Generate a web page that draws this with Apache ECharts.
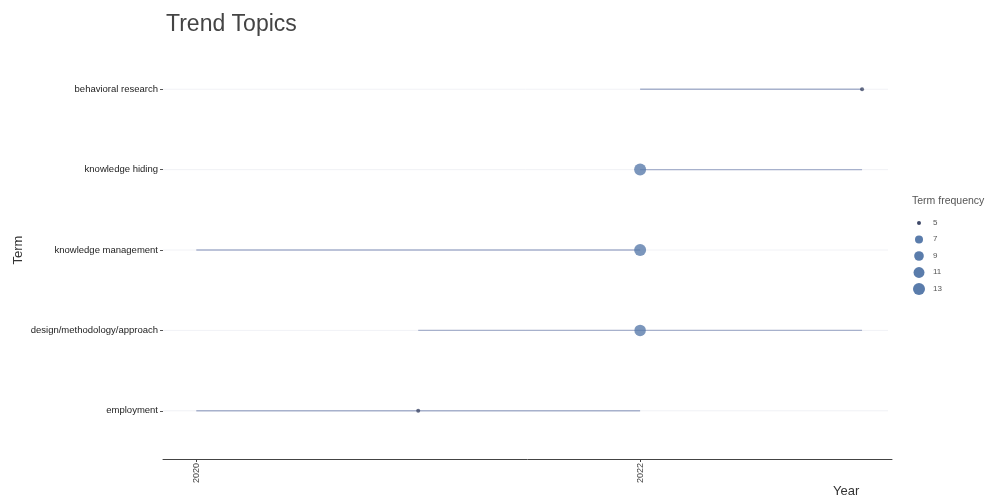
<!DOCTYPE html>
<html>
<head>
<meta charset="utf-8">
<script src="https://cdn.jsdelivr.net/npm/echarts@6/dist/echarts.min.js"></script>
<style>
  html, body { margin: 0; padding: 0; background: #fff; }
  #chart { width: 990px; height: 500px; }
</style>
</head>
<body>
<div id="chart"></div>
<script>
// Terms listed bottom to top
const terms = ['employment', 'design/methodology/approach', 'knowledge management', 'knowledge hiding', 'behavioral research'];
// First quartile, median and third quartile of publication year per term
const yearQ1 = [2020, 2021, 2020, 2022, 2022];
const yearMedian = [2021, 2022, 2022, 2022, 2023];
const yearQ3 = [2022, 2023, 2022, 2023, 2023];
// Term frequency per term
const freq = [5, 12, 13, 13, 5];
// Year tick labels and legend steps
const yearTicks = [2020, 2022];
const legendSteps = [5, 7, 9, 11, 13];

const X_MIN = 2019.85, X_MAX = 2023.135;
const F_MIN = 5, F_MAX = 13;

function sizeOf(f) {
  return 4 + 8 * Math.sqrt(Math.max(0, (f - F_MIN) / (F_MAX - F_MIN)));
}
function mix(a, b, t) {
  const pa = [parseInt(a.slice(1, 3), 16), parseInt(a.slice(3, 5), 16), parseInt(a.slice(5, 7), 16)];
  const pb = [parseInt(b.slice(1, 3), 16), parseInt(b.slice(3, 5), 16), parseInt(b.slice(5, 7), 16)];
  return 'rgb(' + pa.map((v, i) => Math.round(v + (pb[i] - v) * t)).join(',') + ')';
}
function colorOf(f) {
  return mix('#3e4868', '#5a7cab', Math.min(1, (f - F_MIN) / 2));
}

const segData = terms.map((t, i) => [yearQ1[i], yearQ3[i], i + 1]);
const pointData = terms.map((t, i) => ({
  value: [yearMedian[i], i + 1, freq[i]],
  symbolSize: sizeOf(freq[i]),
  itemStyle: { color: colorOf(freq[i]) }
}));

// Legend for term frequency
const legendChildren = [{
  type: 'text', x: 0, y: 0,
  style: { text: 'Term frequency', fontSize: 10.5, fill: '#555', fontFamily: 'Liberation Sans' }
}];
legendSteps.forEach((f, k) => {
  const cy = 27 + k * 16.5;
  legendChildren.push({
    type: 'circle', shape: { cx: 7, cy: cy, r: sizeOf(f) / 2 },
    style: { fill: colorOf(f) }
  });
  legendChildren.push({
    type: 'text', x: 21, y: cy - 4.5,
    style: { text: String(f), fontSize: 8, fill: '#555', fontFamily: 'Liberation Sans' }
  });
});

const chart = echarts.init(document.getElementById('chart'), null, { renderer: 'canvas' });
chart.setOption({
  backgroundColor: '#fff',
  animation: false,
  title: {
    text: 'Trend Topics', left: 161, top: 8,
    textStyle: { fontSize: 23, fontWeight: 'normal', color: '#444', fontFamily: 'Liberation Sans' }
  },
  grid: { left: 163, right: 98, top: 41, bottom: 41 },
  xAxis: {
    type: 'value', min: X_MIN, max: X_MAX,
    axisLine: { show: true, lineStyle: { color: '#444', width: 1 } },
    axisTick: { show: true, customValues: yearTicks, length: 3, lineStyle: { color: '#444' } },
    axisLabel: {
      customValues: yearTicks, rotate: 90, fontSize: 9, color: '#444',
      margin: 4, fontFamily: 'Liberation Sans', formatter: v => String(Math.round(v))
    },
    splitLine: { show: false }
  },
  yAxis: {
    type: 'value', min: 0.4, max: 5.6,
    name: 'Term', nameLocation: 'middle', nameGap: 138, nameRotate: 90,
    nameMoveOverlap: false,
    nameTextStyle: { fontSize: 13, color: '#333', fontFamily: 'Liberation Sans' },
    axisLine: { show: false },
    axisTick: { show: true, customValues: [1, 2, 3, 4, 5], length: 3, lineStyle: { color: '#555' } },
    axisLabel: {
      customValues: [1, 2, 3, 4, 5], fontSize: 9.5, color: '#222', margin: 5,
      fontFamily: 'Liberation Sans', formatter: v => terms[Math.round(v) - 1]
    },
    splitLine: { show: false }
  },
  graphic: [
    { type: 'text', left: 833, top: 485,
      style: { text: 'Year', fontSize: 13, fill: '#333', fontFamily: 'Liberation Sans' } },
    { type: 'group', left: 912, top: 196, children: legendChildren }
  ],
  series: [
    {
      // faint guide lines across each term row
      type: 'custom',
      silent: true,
      data: terms.map((t, i) => [i + 1]),
      encode: { y: 0 },
      renderItem: (params, api) => {
        const a = api.coord([X_MIN, api.value(0)]);
        const b = api.coord([X_MAX, api.value(0)]);
        return { type: 'line', shape: { x1: a[0], y1: a[1], x2: b[0] - 4, y2: b[1] },
          style: { stroke: '#f1f2f6', lineWidth: 1 } };
      },
      z: 1
    },
    {
      // year span from first to third quartile
      type: 'custom',
      data: segData,
      encode: { x: [0, 1], y: 2 },
      renderItem: (params, api) => {
        const a = api.coord([api.value(0), api.value(2)]);
        const b = api.coord([api.value(1), api.value(2)]);
        return { type: 'line', shape: { x1: a[0], y1: a[1], x2: b[0], y2: b[1] },
          style: { stroke: '#a7b1cc', lineWidth: 1.3 } };
      },
      z: 2
    },
    {
      type: 'scatter',
      data: pointData,
      z: 3
    }
  ]
});
</script>
</body>
</html>
